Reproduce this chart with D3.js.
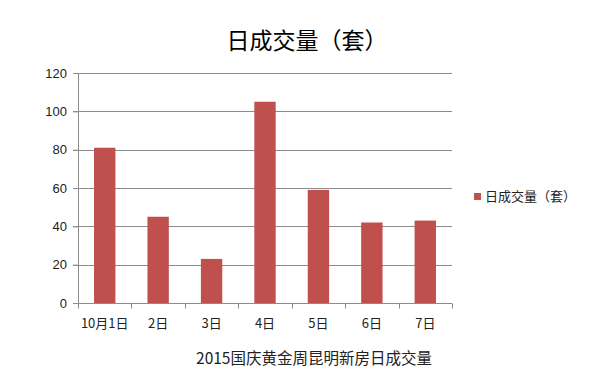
<!DOCTYPE html>
<meta charset="utf-8">
<title>日成交量（套）</title>
<script src="https://d3js.org/d3.v7.min.js"></script>
<style>
body { margin: 0; background: #fff; }
svg { font-family: "Noto Sans CJK SC", "DejaVu Sans", sans-serif; }
.grid line { stroke: #8c8c8c; stroke-width: 1; }
.axis path, .axis line { stroke: #8c8c8c; }
.axis text { fill: #222; font-size: 13px; }
.bar { fill: #c0504d; }
</style>
<svg width="592" height="392"></svg>
<script>
var days = ["10月1日", "2日", "3日", "4日", "5日", "6日", "7日"];
var volumes = [81, 45, 23, 105, 59, 42, 43];
var yTicks = [0, 20, 40, 60, 80, 100, 120];
var seriesName = "日成交量（套）";
var caption = "2015国庆黄金周昆明新房日成交量";

var svg = d3.select("svg"),
    margin = {top: 73, left: 78},
    width = 374,
    height = 230;

var g = svg.append("g")
    .attr("transform", "translate(" + margin.left + "," + margin.top + ")");

var x = d3.scaleBand().domain(days).range([0, width]).paddingInner(0.6).paddingOuter(0.3);
var xCat = d3.scaleBand().domain(days).range([0, width]);
var y = d3.scaleLinear().domain([0, 120]).range([height, 0]);

// gridlines
g.append("g")
    .attr("class", "grid")
  .selectAll("line")
  .data(yTicks)
  .enter().append("line")
    .attr("x1", -5)
    .attr("x2", width)
    .attr("y1", function(d) { return Math.round(y(d)) + 0.5; })
    .attr("y2", function(d) { return Math.round(y(d)) + 0.5; });

// y axis
g.append("g")
    .attr("class", "axis")
    .call(d3.axisLeft(y).tickValues(yTicks).tickSize(5).tickPadding(6))
    .call(function(a) { a.select(".domain").attr("d", "M0.5,0V" + height); });

// bars
g.selectAll(".bar")
  .data(volumes)
  .enter().append("rect")
    .attr("class", "bar")
    .attr("x", function(d, i) { return x(days[i]); })
    .attr("y", function(d) { return y(d); })
    .attr("width", x.bandwidth())
    .attr("height", function(d) { return height - y(d); });

// x axis with boundary ticks
var xa = g.append("g")
    .attr("class", "axis")
    .attr("transform", "translate(0," + (Math.round(height) + 0.5) + ")");
xa.append("line").attr("x1", 0).attr("x2", width).attr("y1", 0).attr("y2", 0);
xa.selectAll(".tk")
  .data(days.concat(["end"]))
  .enter().append("line")
    .attr("class", "tk")
    .attr("x1", function(d, i) { return Math.round(i * xCat.step()) + 0.5; })
    .attr("x2", function(d, i) { return Math.round(i * xCat.step()) + 0.5; })
    .attr("y1", 0)
    .attr("y2", 5);
xa.selectAll("text")
  .data(days)
  .enter().append("text")
    .attr("x", function(d) { return xCat(d) + xCat.bandwidth() / 2; })
    .attr("y", 24)
    .attr("text-anchor", "middle")
    .text(function(d) { return d; });

// title
svg.append("text")
    .attr("x", 307)
    .attr("y", 49)
    .attr("text-anchor", "middle")
    .style("font-size", "23px")
    .style("fill", "#000")
    .text(seriesName);

// legend
svg.append("rect")
    .attr("x", 474)
    .attr("y", 193)
    .attr("width", 7)
    .attr("height", 7)
    .attr("class", "bar");
svg.append("text")
    .attr("x", 485)
    .attr("y", 201)
    .style("font-size", "13px")
    .style("fill", "#222")
    .text(seriesName);

// caption
svg.append("text")
    .attr("x", 314)
    .attr("y", 364)
    .attr("text-anchor", "middle")
    .style("font-size", "15.5px")
    .style("fill", "#222")
    .text(caption);
</script>
</html>
